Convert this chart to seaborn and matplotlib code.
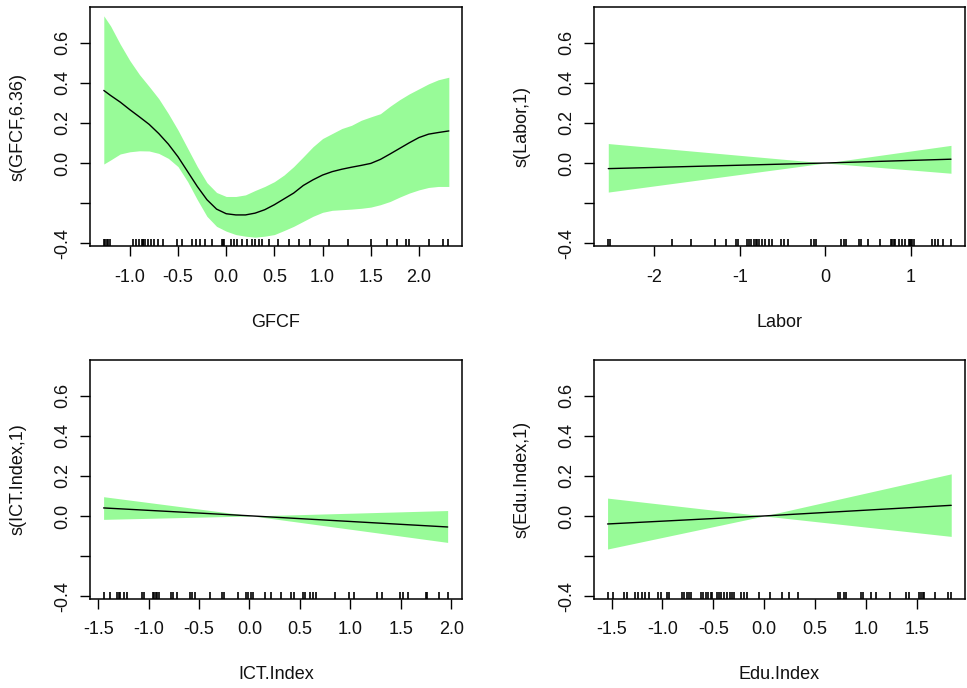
"""
GAM smooth terms (mgcv style): fitted smooth, shaded band and rug for four predictors.
"""

import matplotlib
matplotlib.use("Agg")
import matplotlib.pyplot as plt
import seaborn as sns

# GFCF smooth, s(GFCF,6.36)
gfcf_x = [-1.27, -1.2, -1.1, -1.0, -0.9, -0.8, -0.7, -0.6, -0.5, -0.4, -0.3, -0.2, -0.1,
          0.0, 0.1, 0.2, 0.3, 0.4, 0.5, 0.6, 0.7, 0.8, 0.9, 1.0, 1.1, 1.2, 1.3, 1.4,
          1.5, 1.6, 1.7, 1.8, 1.9, 2.0, 2.1, 2.2, 2.31]
gfcf_fit = [0.362, 0.337, 0.304, 0.266, 0.230, 0.193, 0.147, 0.094, 0.031, -0.043, -0.117,
            -0.183, -0.230, -0.253, -0.259, -0.259, -0.250, -0.233, -0.208, -0.179, -0.150,
            -0.112, -0.084, -0.060, -0.043, -0.031, -0.021, -0.012, -0.002, 0.018, 0.045,
            0.073, 0.101, 0.127, 0.144, 0.152, 0.160]
gfcf_upper = [0.734, 0.684, 0.593, 0.511, 0.441, 0.382, 0.321, 0.246, 0.164, 0.073, -0.018,
              -0.098, -0.147, -0.167, -0.167, -0.159, -0.137, -0.117, -0.093, -0.060, -0.018,
              0.031, 0.081, 0.122, 0.147, 0.172, 0.188, 0.213, 0.230, 0.246, 0.283,
              0.316, 0.345, 0.370, 0.395, 0.415, 0.428]
gfcf_lower = [-0.005, 0.015, 0.045, 0.056, 0.061, 0.060, 0.048, 0.023, -0.018, -0.093, -0.183,
              -0.266, -0.316, -0.340, -0.357, -0.365, -0.370, -0.365, -0.357, -0.337, -0.316,
              -0.291, -0.266, -0.246, -0.236, -0.233, -0.230, -0.226, -0.220, -0.208, -0.192,
              -0.170, -0.150, -0.134, -0.122, -0.117, -0.117]
gfcf_rug = [-1.27, -1.255, -1.24, -1.225, -1.21, -0.963, -0.936, -0.908, -0.877, -0.868,
            -0.859, -0.842, -0.814, -0.780, -0.748, -0.703, -0.658, -0.506, -0.454, -0.357,
            -0.315, -0.270, -0.218, -0.149, -0.045, -0.036, -0.028, 0.049, 0.076, 0.111,
            0.163, 0.215, 0.267, 0.301, 0.336, 0.371, 0.440, 0.534, 0.648, 0.759, 0.866,
            1.064, 1.265, 1.507, 1.670, 1.774, 1.861, 1.895, 2.103, 2.252, 2.304]
gfcf_ticks = [-1.0, -0.5, 0.0, 0.5, 1.0, 1.5, 2.0]
gfcf_ticklabels = ["-1.0", "-0.5", "0.0", "0.5", "1.0", "1.5", "2.0"]

# Labor smooth, s(Labor,1)
labor_x = [-2.54, 0.0, 1.47]
labor_fit = [-0.028, 0.0, 0.019]
labor_upper = [0.097, 0.0, 0.088]
labor_lower = [-0.145, 0.0, -0.051]
labor_rug = [-2.546, -2.523, -1.793, -1.571, -1.287, -1.158, -1.049, -1.021, -0.916, -0.889,
             -0.866, -0.830, -0.815, -0.800, -0.772, -0.741, -0.702, -0.663, -0.624, -0.519,
             -0.487, -0.441, -0.168, -0.136, -0.105, 0.187, 0.214, 0.246, 0.390, 0.421,
             0.499, 0.643, 0.768, 0.785, 0.800, 0.819, 0.858, 0.897, 0.936, 0.975, 0.988,
             1.0, 1.015, 1.033, 1.248, 1.287, 1.318, 1.372, 1.474]
labor_ticks = [-2, -1, 0, 1]
labor_ticklabels = ["-2", "-1", "0", "1"]

# ICT.Index smooth, s(ICT.Index,1)
ict_x = [-1.446, 0.03, 1.965]
ict_fit = [0.040, 0.0, -0.055]
ict_upper = [0.096, 0.0, 0.027]
ict_lower = [-0.017, 0.0, -0.132]
ict_rug = [-1.444, -1.378, -1.312, -1.295, -1.279, -1.242, -1.212, -1.070, -1.047, -0.954,
           -0.942, -0.930, -0.915, -0.900, -0.782, -0.756, -0.716, -0.589, -0.566, -0.540,
           -0.391, -0.275, -0.248, -0.109, -0.033, -0.010, 0.014, 0.040, 0.156, 0.212,
           0.315, 0.411, 0.438, 0.527, 0.553, 0.597, 0.627, 0.663, 0.852, 0.985, 1.041,
           1.266, 1.316, 1.492, 1.525, 1.571, 1.746, 1.763, 1.879, 1.971]
ict_ticks = [-1.5, -1.0, -0.5, 0.0, 0.5, 1.0, 1.5, 2.0]
ict_ticklabels = ["-1.5", "-1.0", "-0.5", "0.0", "0.5", "1.0", "1.5", "2.0"]

# Edu.Index smooth, s(Edu.Index,1)
edu_x = [-1.54, 0.0, 1.84]
edu_fit = [-0.040, 0.0, 0.053]
edu_upper = [0.089, 0.0, 0.21]
edu_lower = [-0.165, 0.0, -0.102]
edu_rug = [-1.538, -1.485, -1.374, -1.348, -1.272, -1.239, -1.206, -1.167, -1.134, -1.045,
           -1.012, -0.953, -0.936, -0.812, -0.789, -0.763, -0.740, -0.716, -0.624, -0.598,
           -0.575, -0.552, -0.526, -0.510, -0.466, -0.443, -0.420, -0.394, -0.361, -0.335,
           -0.312, -0.296, -0.223, -0.197, -0.171, -0.049, 0.056, 0.175, 0.247, 0.329,
           0.723, 0.750, 0.783, 0.806, 0.953, 0.970, 1.052, 1.101, 1.240, 1.398, 1.424,
           1.522, 1.545, 1.560, 1.575, 1.677, 1.808, 1.841]
edu_ticks = [-1.5, -1.0, -0.5, 0.0, 0.5, 1.0, 1.5]
edu_ticklabels = ["-1.5", "-1.0", "-0.5", "0.0", "0.5", "1.0", "1.5"]

y_ticks = [-0.4, -0.2, 0.0, 0.2, 0.4, 0.6]
y_ticklabels = ["-0.4", "", "0.0", "0.2", "0.4", "0.6"]

panels = [
    ("GFCF", "s(GFCF,6.36)", gfcf_x, gfcf_fit, gfcf_upper, gfcf_lower, gfcf_rug,
     gfcf_ticks, gfcf_ticklabels),
    ("Labor", "s(Labor,1)", labor_x, labor_fit, labor_upper, labor_lower, labor_rug,
     labor_ticks, labor_ticklabels),
    ("ICT.Index", "s(ICT.Index,1)", ict_x, ict_fit, ict_upper, ict_lower, ict_rug,
     ict_ticks, ict_ticklabels),
    ("Edu.Index", "s(Edu.Index,1)", edu_x, edu_fit, edu_upper, edu_lower, edu_rug,
     edu_ticks, edu_ticklabels),
]

sns.set_style("ticks")
plt.rcParams["font.family"] = ["Liberation Sans", "DejaVu Sans"]
plt.rcParams["font.size"] = 13

fig = plt.figure(figsize=(9.67, 6.88), dpi=100)
positions = [
    [0.0931, 0.6424, 0.3847, 0.3474],
    [0.6143, 0.6424, 0.3837, 0.3474],
    [0.0931, 0.1294, 0.3847, 0.3474],
    [0.6143, 0.1294, 0.3837, 0.3474],
]

# shared y range, R style 4% padding
y_lo = min(min(p[5]) for p in panels)
y_hi = max(max(p[4]) for p in panels)
y_pad = 0.04 * (y_hi - y_lo)

for pos, (xname, yname, xs, fit, upper, lower, rug, xt, xtl) in zip(positions, panels):
    ax = fig.add_axes(pos)

    ax.fill_between(xs, lower, upper, color="palegreen", linewidth=0)
    sns.lineplot(x=xs, y=fit, color="black", linewidth=1.0, ax=ax)
    sns.rugplot(x=rug, height=0.03, color="black", linewidth=1.2, ax=ax)

    x_lo, x_hi = min(rug), max(rug)
    x_pad = 0.04 * (x_hi - x_lo)
    ax.set_xlim(x_lo - x_pad, x_hi + x_pad)
    ax.set_ylim(y_lo - y_pad, y_hi + y_pad)

    ax.set_xticks(xt)
    ax.set_xticklabels(xtl)
    ax.set_yticks(y_ticks)
    ax.set_yticklabels(y_ticklabels)
    for label in ax.get_yticklabels():
        label.set_rotation(90)
        label.set_va("center")

    ax.tick_params(axis="both", length=7.2, width=1.0, color="black",
                   labelsize=13, labelcolor="#111111")
    ax.tick_params(axis="x", pad=9)
    ax.tick_params(axis="y", pad=6)

    for spine in ax.spines.values():
        spine.set_visible(True)
        spine.set_linewidth(1.1)
        spine.set_color("black")

    ax.set_xlabel(xname, fontsize=13, color="#111111")
    ax.set_ylabel(yname, fontsize=13, color="#111111")
    ax.xaxis.set_label_coords(0.5, -76 / 239)
    ax.xaxis.label.set_va("center")
    ax.yaxis.set_label_coords(-72 / 372, 0.5)
    ax.yaxis.label.set_va("center")

fig.savefig("out.png", dpi=100)
